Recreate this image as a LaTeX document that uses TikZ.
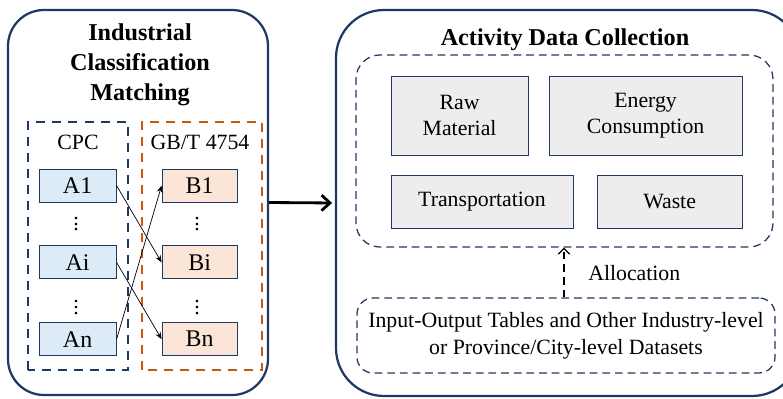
\documentclass[tikz,border=0pt]{standalone}
\usepackage{fontspec}
\setmainfont{Liberation Serif}
\usetikzlibrary{arrows.meta}
\usetikzlibrary{positioning}
\usetikzlibrary{calc}

\definecolor{navy}{RGB}{32,56,100}
\definecolor{rust}{RGB}{197,90,17}
\definecolor{cpcblue}{RGB}{221,235,247}
\definecolor{gbpeach}{RGB}{251,229,214}
\definecolor{datagray}{RGB}{237,237,237}

\tikzset{
  panel/.style={draw=navy, line width=1.6pt, rounded corners=0.9cm},
  codebox/.style={draw=navy, line width=0.7pt, minimum height=0.825cm, inner sep=0pt, font=\fontsize{17}{20}\selectfont},
  cpcitem/.style={codebox, fill=cpcblue, minimum width=1.925cm},
  gbitem/.style={codebox, fill=gbpeach, minimum width=1.875cm},
  dataitem/.style={draw=navy, line width=0.7pt, fill=datagray, inner sep=0pt, align=center, font=\fontsize{15.5}{19}\selectfont},
  groupframe/.style={draw=navy, line width=0.9pt, dash pattern=on 5.5pt off 3.5pt, rounded corners=0.6cm},
  tag/.style={inner sep=0pt, font=\fontsize{15.5}{19}\selectfont},
  headline/.style={inner sep=0pt, align=center, font=\fontsize{17.2}{21.3}\selectfont\bfseries}
}

\begin{document}
\begin{tikzpicture}
\useasboundingbox (0,0) rectangle (19.575,9.95);

%panels
\node[panel, minimum width=6.5cm, minimum height=9.625cm] (matching) at (3.45,4.8875) {};
\node[panel, rounded corners=1.2cm, minimum width=11.6cm, minimum height=9.65cm] (collection) at (14.2,4.875) {};

\node[headline] (matchtitle) at (3.5,8.325) {Industrial\\Classification\\Matching};
\node[headline] (collecttitle) at (14.125,8.95) {Activity Data Collection};

%code columns
\draw[navy, line width=2pt, dash pattern=on 6.4pt off 5pt] (0.7,0.7) rectangle (3.2,6.9);
\draw[rust, line width=2pt, dash pattern=on 6.4pt off 5pt] (3.55,0.7) rectangle (6.55,6.9);
\node[tag] (cpc) at (1.95,6.4) {CPC};
\node[tag] (gbt) at (5.0,6.4) {GB/T 4754};

\node[cpcitem] (a1) at (1.94,5.31) {A1};
\node[cpcitem] (ai) at (1.94,3.39) {Ai};
\node[cpcitem] (an) at (1.94,1.47) {An};
\node[gbitem] (b1) at (4.99,5.31) {B1};
\node[gbitem] (bi) at (4.99,3.39) {Bi};
\node[gbitem] (bn) at (4.99,1.47) {Bn};

\foreach \x in {1.9,4.925} {
\node[tag] at (\x,4.45) {$\vdots$};
\node[tag] at (\x,2.37) {$\vdots$};
}

\draw[line width=0.5pt, -{Stealth[length=5pt,width=4pt]}] (a1.east) -- (bi.west);
\draw[line width=0.5pt, -{Stealth[length=5pt,width=4pt]}] (ai.east) -- (bn.west);
\draw[line width=0.5pt, -{Stealth[length=5pt,width=4pt]}] (an.east) -- (b1.west);

%main arrow
\draw[line width=2pt, -{Straight Barb[length=6pt,width=11pt]}, shorten >=2pt] (matching.east) -- (collection.west);

%activity data
\node[groupframe, minimum width=10.425cm, minimum height=4.8cm] (activities) at (14.1125,6.175) {};
\node[dataitem, minimum width=3.425cm, minimum height=1.975cm] (raw) at (11.49,7.06) {Raw\\Material};
\node[dataitem, minimum width=4.825cm, minimum height=1.975cm] (energy) at (16.14,7.06) {Energy\\Consumption};
\node[dataitem, minimum width=4.55cm, minimum height=1.325cm] (transport) at (12.05,4.91) {Transportation};
\node[dataitem, minimum width=3.625cm, minimum height=1.325cm] (waste) at (16.74,4.91) {Waste};

\node[groupframe, rounded corners=0.4cm, minimum width=10.45cm, minimum height=1.875cm, align=center, font=\fontsize{15.5}{19.2}\selectfont] (iodata) at (14.15,1.5625) {Input-Output Tables and Other Industry-level\\or Province/City-level Datasets};

\draw[line width=0.9pt, dash pattern=on 5.5pt off 3.5pt, -{Straight Barb[length=4pt,width=8pt]}] (iodata.north -| 14.1,0) -- (14.1,0 |- activities.south);
\node[tag, anchor=west] (alloc) at (14.7,3.125) {Allocation};

\end{tikzpicture}
\end{document}
